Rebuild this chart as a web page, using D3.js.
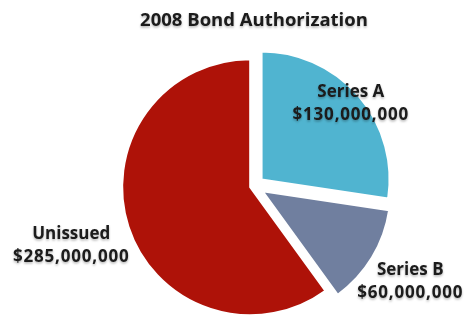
<!DOCTYPE html>
<html>
<head>
<meta charset="utf-8">
<script src="https://cdn.jsdelivr.net/npm/d3@7"></script>
<style>
  html, body { margin: 0; padding: 0; background: #fff; }
  svg { display: block; }
  text { font-family: "Open Sans", "Liberation Sans", sans-serif; font-weight: 700; fill: #1a1a1a; }
</style>
</head>
<body>
<svg id="chart" width="466" height="322"></svg>
<script>
// Bond authorization split (US dollars)
const categories = ["Series A", "Series B", "Unissued"];
const amounts = [130000000, 60000000, 285000000];
const title = "2008 Bond Authorization";

// Presentation
const colors = ["#50b4d0", "#707f9f", "#ae1208"];
const explode = [10, 10, 4];            // outward shift of each slice, px
const labelRadius = [0.92, 1.35, 1.47]; // label distance as a fraction of the radius

const width = 466, height = 322;
const cx = 254, cy = 186, radius = 128;

const svg = d3.select("#chart");

const shadow = svg.append("defs").append("filter")
  .attr("id", "soft").attr("x", "-10%").attr("y", "-10%").attr("width", "120%").attr("height", "140%");
shadow.append("feDropShadow")
  .attr("dx", 0).attr("dy", 1.5).attr("stdDeviation", 1)
  .attr("flood-color", "#000").attr("flood-opacity", 0.3);

svg.append("text")
  .attr("x", 254).attr("y", 26)
  .attr("text-anchor", "middle")
  .attr("font-size", 18.5)
  .attr("filter", "url(#soft)")
  .text(title);

const data = categories.map((c, i) => ({ name: c, value: amounts[i], i }));

const pie = d3.pie().value(d => d.value).sort(null);
const arc = d3.arc().innerRadius(0).outerRadius(radius);
const arcs = pie(data);

const g = svg.append("g").attr("transform", `translate(${cx},${cy})`);

function offset(a, dist) {
  const mid = (a.startAngle + a.endAngle) / 2;
  return [Math.sin(mid) * dist, -Math.cos(mid) * dist];
}

g.selectAll("path.slice")
  .data(arcs)
  .join("path")
  .attr("class", "slice")
  .attr("d", arc)
  .attr("fill", d => colors[d.data.i])
  .attr("stroke", "#fff")
  .attr("stroke-width", 2)
  .attr("transform", d => {
    const [dx, dy] = offset(d, explode[d.data.i]);
    return `translate(${dx},${dy})`;
  });

const fmt = d3.format("$,");

const labels = g.selectAll("g.label")
  .data(arcs)
  .join("g")
  .attr("class", "label")
  .attr("filter", "url(#soft)")
  .attr("transform", d => {
    const [ex, ey] = offset(d, explode[d.data.i]);
    const [lx, ly] = offset(d, radius * labelRadius[d.data.i]);
    return `translate(${ex + lx},${ey + ly})`;
  });

labels.append("text")
  .attr("text-anchor", "middle")
  .attr("y", -6)
  .attr("font-size", 17)
  .text(d => d.data.name);

labels.append("text")
  .attr("text-anchor", "middle")
  .attr("y", 17)
  .attr("font-size", 17)
  .attr("letter-spacing", 0.8)
  .text(d => fmt(d.data.value));
</script>
</body>
</html>
